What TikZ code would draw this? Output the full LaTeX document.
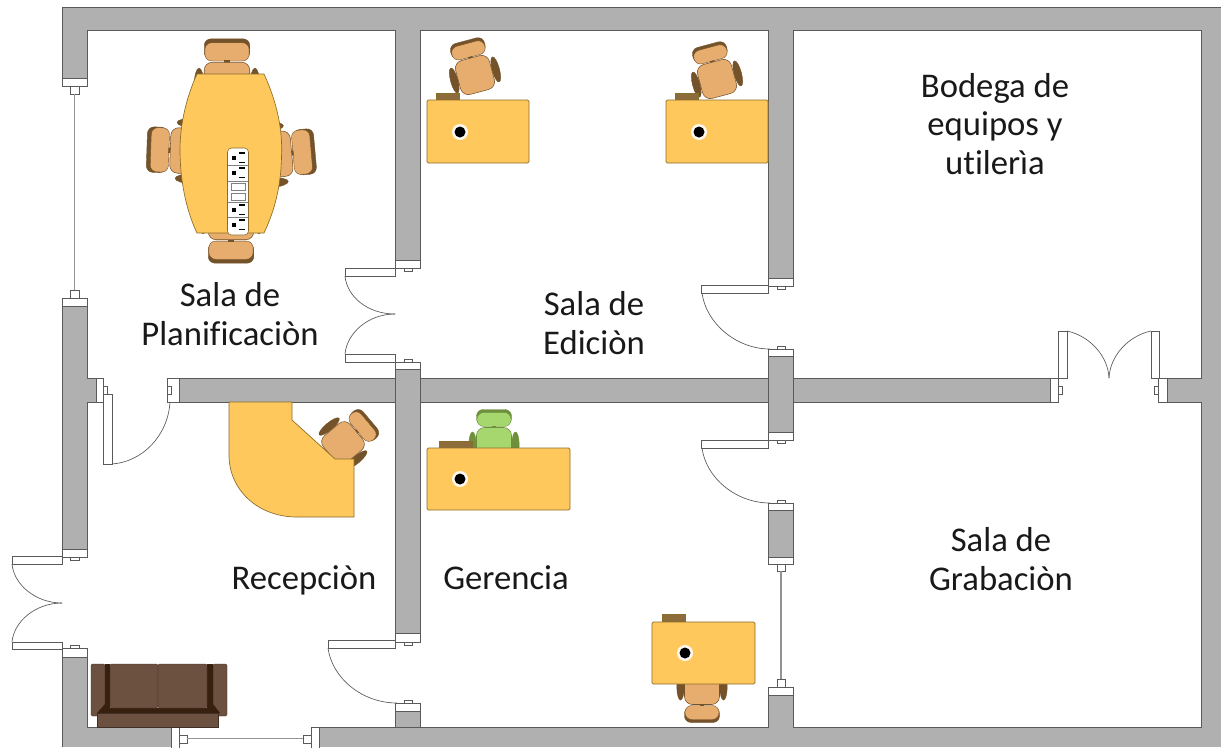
\documentclass[tikz,border=0pt]{standalone}
\usepackage{fontspec}
\setmainfont[Ligatures=NoCommon]{Carlito}
\definecolor{wallgrey}{HTML}{B0B0B0}
\definecolor{lineedge}{HTML}{5A5A5A}
\definecolor{deskyellow}{HTML}{FFC85C}
\definecolor{deskedge}{HTML}{8A6D2A}
\definecolor{seattan}{HTML}{E6AD6E}
\definecolor{seatdark}{HTML}{74522A}
\definecolor{seatgreen}{HTML}{A6D66E}
\definecolor{greendark}{HTML}{6E8F3C}
\definecolor{boxbrown}{HTML}{8C6C3A}
\definecolor{sofabrown}{HTML}{6C5040}
\definecolor{sofadark}{HTML}{38200F}
\tikzset{
  wall/.style={fill=wallgrey},
  room/.style={draw=lineedge, fill=white, line width=0.5pt},
  gap/.style={fill=white},
  jamb/.style={draw=lineedge, fill=white, line width=0.5pt},
  swing/.style={draw=lineedge, line width=0.5pt},
  glass/.style={draw=gray!85, line width=1pt},
  desk/.style={draw=deskedge, fill=deskyellow, line width=0.5pt},
  deskbox/.style={draw=deskedge, fill=boxbrown, line width=0.3pt},
  sofa/.style={draw=sofabrown!60!black, fill=sofabrown, line width=0.3pt},
  roomlabel/.style={align=center, inner sep=0pt, text=black!90, font=\fontsize{26}{29}\selectfont},
  pics/chair/.style 2 args={code={
    \draw [draw=#2, fill=#2, line width=0.3pt] (-21.5,0) ellipse (3.7 and 13);
    \draw [draw=#2, fill=#2, line width=0.3pt] (21.5,0) ellipse (3.7 and 13);
    \draw [draw=#2, fill=#2, line width=0.3pt, rounded corners=5pt] (-17.5,-35.5) rectangle (17.5,-20);
    \draw [draw=#2, fill=#1, line width=0.3pt, rounded corners=5pt] (-17,-32.5) rectangle (17,-18.5);
    \fill [#2] (-2,-19) rectangle (2,-17);
    \draw [draw=#2, fill=#1, line width=0.4pt, rounded corners=6pt] (-17.5,-17.5) rectangle (17.5,17.5);
  }},
  pics/hole/.style={code={
    \fill [white!90!deskyellow] (0,0) circle (8);
    \fill [black] (0,0) circle (5.5);
  }},
  pics/outlet/.style={code={
    \fill [black] (-2,-2) rectangle (2,2);
    \fill [black] (5,-6) rectangle (11,-4.5);
    \fill [black] (5,3.5) rectangle (11,5);
  }}
}
\begin{document}
\begin{tikzpicture}[x=0.75pt, y=-0.75pt]
\useasboundingbox (0,0) rectangle (1221,747);

% walls and rooms
\fill [wall] (62,7) rectangle (1221,747);
\draw [lineedge, line width=0.4pt] (62,747) -- (62,7) -- (1221,7);
\draw [room] (87,30) rectangle (395,378);
\draw [room] (420,30) rectangle (768,378);
\draw [room] (793,30) rectangle (1201,378);
\draw [room] (87,402) rectangle (395,727);
\draw [room] (420,402) rectangle (768,727);
\draw [room] (793,402) rectangle (1201,727);
\draw [lineedge, line width=0.4pt] (395,378) -- (395,402);
\draw [lineedge, line width=0.4pt] (420,378) -- (420,402);
\draw [lineedge, line width=0.4pt] (768,378) -- (768,402);
\draw [lineedge, line width=0.4pt] (793,378) -- (793,402);
\draw [lineedge, line width=0.4pt] (395,727) -- (768,727);

% window, left of planning room
\fill [gap] (62,86) rectangle (88,298);
\draw [jamb] (62,78) rectangle (87,86);
\draw [jamb] (62,298) rectangle (87,306);
\draw [jamb] (70,86) rectangle (79,94);
\draw [jamb] (70,290) rectangle (79,298);
\draw [glass] (74.75,94) -- (74.75,290);

% double door, planning room to editing room
\fill [gap] (394,268) rectangle (421,362);
\draw [jamb] (395,260) rectangle (420,268);
\draw [jamb] (395,362) rectangle (420,369);
\draw [jamb] (404,268) rectangle (412,271);
\draw [jamb] (404,359) rectangle (412,362);
\draw [jamb] (345,268) rectangle (395,276);
\draw [jamb] (345,354) rectangle (395,362);
\draw [swing] (345,276) .. controls (347,297) and (368,314) .. (395,314);
\draw [swing] (345,354) .. controls (347,333) and (368,314) .. (395,314);

% door, reception top
\fill [gap] (96,377) rectangle (179,403);
\draw [jamb] (96,378) rectangle (103,402);
\draw [jamb] (167,378) rectangle (179,402);
\draw [jamb] (103,386) rectangle (107,394);
\draw [jamb] (167,386) rectangle (171,394);
\draw [jamb] (103,394) rectangle (112,464);
\draw [swing] (112,464) .. controls (142,462) and (168,436) .. (170,402);

% double door, reception left
\fill [gap] (61,557) rectangle (88,648);
\draw [jamb] (62,549) rectangle (87,557);
\draw [jamb] (62,648) rectangle (87,657);
\draw [jamb] (70,557) rectangle (79,560);
\draw [jamb] (70,645) rectangle (79,648);
\draw [jamb] (12,556) rectangle (62,564);
\draw [jamb] (12,642) rectangle (62,649);
\draw [swing] (12,564) .. controls (14,585) and (36,603) .. (62,603);
\draw [swing] (12,642) .. controls (14,621) and (36,603) .. (62,603);

% door, reception to management
\fill [gap] (394,642) rectangle (421,703);
\draw [jamb] (395,633) rectangle (420,642);
\draw [jamb] (395,703) rectangle (420,711);
\draw [jamb] (404,642) rectangle (412,645);
\draw [jamb] (404,700) rectangle (412,703);
\draw [jamb] (328,640) rectangle (395,648);
\draw [swing] (328,648) .. controls (332,678) and (362,703) .. (397,703);

% window, reception bottom
\fill [gap] (179,726) rectangle (311,747);
\draw [jamb] (171,727) rectangle (179,748);
\draw [jamb] (311,727) rectangle (319,748);
\draw [jamb] (179,735) rectangle (187,743);
\draw [jamb] (303,735) rectangle (311,743);
\draw [glass] (187,738.75) -- (303,738.75);

% door, editing room to store
\fill [gap] (767,286) rectangle (794,349);
\draw [jamb] (768,278) rectangle (793,286);
\draw [jamb] (768,349) rectangle (793,356);
\draw [jamb] (777,286) rectangle (785,289);
\draw [jamb] (777,346) rectangle (785,349);
\draw [jamb] (701,285) rectangle (768,293);
\draw [swing] (702,293) .. controls (706,323) and (736,349) .. (770,349);

% door, management to recording room
\fill [gap] (767,440) rectangle (794,503);
\draw [jamb] (768,432) rectangle (793,440);
\draw [jamb] (768,503) rectangle (793,510);
\draw [jamb] (777,440) rectangle (785,443);
\draw [jamb] (777,500) rectangle (785,503);
\draw [jamb] (701,440) rectangle (768,448);
\draw [swing] (702,448) .. controls (706,478) and (736,503) .. (770,503);

% window, management right
\fill [gap] (767,564) rectangle (794,687);
\draw [jamb] (768,557) rectangle (793,564);
\draw [jamb] (768,687) rectangle (793,695);
\draw [jamb] (777,564) rectangle (785,571);
\draw [jamb] (777,679) rectangle (785,687);
\draw [glass] (781,571) -- (781,679);

% double door, store to recording room
\fill [gap] (1058,377) rectangle (1158,403);
\draw [jamb] (1050,378) rectangle (1058,402);
\draw [jamb] (1158,378) rectangle (1167,402);
\draw [jamb] (1058,386) rectangle (1062,394);
\draw [jamb] (1154,386) rectangle (1158,394);
\draw [jamb] (1058,331) rectangle (1067,378);
\draw [jamb] (1151,331) rectangle (1159,378);
\draw [swing] (1067,331) .. controls (1090,336) and (1108,356) .. (1109,378);
\draw [swing] (1151,331) .. controls (1128,336) and (1110,356) .. (1109,378);

% chairs
\path (227,85) pic [scale=1.3] {chair={seattan}{seatdark}};
\path (193,151) pic [rotate=88, scale=1.3] {chair={seattan}{seatdark}};
\path (269,155) pic [rotate=-85, scale=1.3] {chair={seattan}{seatdark}};
\path (231,217) pic [rotate=180, scale=1.3] {chair={seattan}{seatdark}};
\path (475,75) pic [rotate=15] {chair={seattan}{seatdark}};
\path (717,79) pic [rotate=15] {chair={seattan}{seatdark}};
\path (343,443) pic [rotate=-50] {chair={seattan}{seatdark}};
\path (494,445) pic {chair={seatgreen}{greendark}};
\path (702,687) pic [rotate=180] {chair={seattan}{seatdark}};

% planning table and power strip
\draw [desk] (197,74) -- (264,74) .. controls (276,100) and (283,128) .. (281.5,157)
  .. controls (281,185) and (275,210) .. (264,233) -- (197,233)
  .. controls (186,210) and (180,180) .. (180,150) .. controls (180,125) and (186,98) .. cycle;
\draw [draw=deskedge, fill=white, line width=0.4pt, rounded corners=3pt] (227.5,148) rectangle (248.5,235);
\draw [gray, line width=0.5pt] (228,165) -- (248,165);
\draw [gray, line width=0.5pt] (228,181) -- (248,181);
\draw [gray, line width=0.5pt] (228,202) -- (248,202);
\draw [gray, line width=0.5pt] (228,217) -- (248,217);
\draw [gray, line width=0.5pt] (231,183) rectangle (245,190);
\draw [gray, line width=0.5pt] (231,193) rectangle (245,200);
\path (234,158) pic {outlet};
\path (234,173) pic {outlet};
\path (234,210) pic {outlet};
\path (234,225) pic {outlet};

% desks
\draw [deskbox] (436,93) rectangle (459,100);
\draw [deskbox] (675,93) rectangle (698,100);
\draw [deskbox] (439,441) rectangle (472,448);
\draw [deskbox] (662,614) rectangle (685,622);
\draw [desk, rounded corners=1pt] (427,100) rectangle (529,163);
\draw [desk, rounded corners=1pt] (666,100) rectangle (768,163);
\draw [desk, rounded corners=1pt] (427,448) rectangle (570,510);
\draw [desk, rounded corners=1pt] (652,622) rectangle (755,684);
\path (460,132) pic {hole};
\path (699,132) pic {hole};
\path (460,479) pic {hole};
\path (685,653) pic {hole};

% reception desk
\draw [desk] (229,402) -- (292,402) -- (292,420) -- (335,459) -- (354,459) -- (354,517) -- (297,517)
  .. controls (258,517) and (229,490) .. (229,455) -- cycle;

% sofa
\draw [sofa, rounded corners=1pt] (91,664) rectangle (105,716);
\draw [sofa, rounded corners=1pt] (213,664) rectangle (227,716);
\fill [sofadark] (105,664) -- (110,664) -- (110,708) -- (207,708) -- (207,664) -- (213,664) -- (213,704) -- (220,713) -- (97,713) -- (105,704) -- cycle;
\draw [sofa, rounded corners=1pt] (110,664) rectangle (158,708);
\draw [sofa, rounded corners=1pt] (158,664) rectangle (207,708);
\draw [sofa] (97,713) rectangle (218,727);

% room names
\node [roomlabel] (planning) at (230,314) {Sala de\\Planificaciòn};
\node [roomlabel] (editing) at (594,323) {Sala de\\Ediciòn};
\node [roomlabel] (store) at (995,124) {Bodega de\\equipos y\\utilerìa};
\node [roomlabel, anchor=base] (reception) at (304,589) {Recepciòn};
\node [roomlabel, anchor=base] (management) at (506,589) {Gerencia};
\node [roomlabel] (recording) at (1001,559) {Sala de\\Grabaciòn};

\end{tikzpicture}
\end{document}
